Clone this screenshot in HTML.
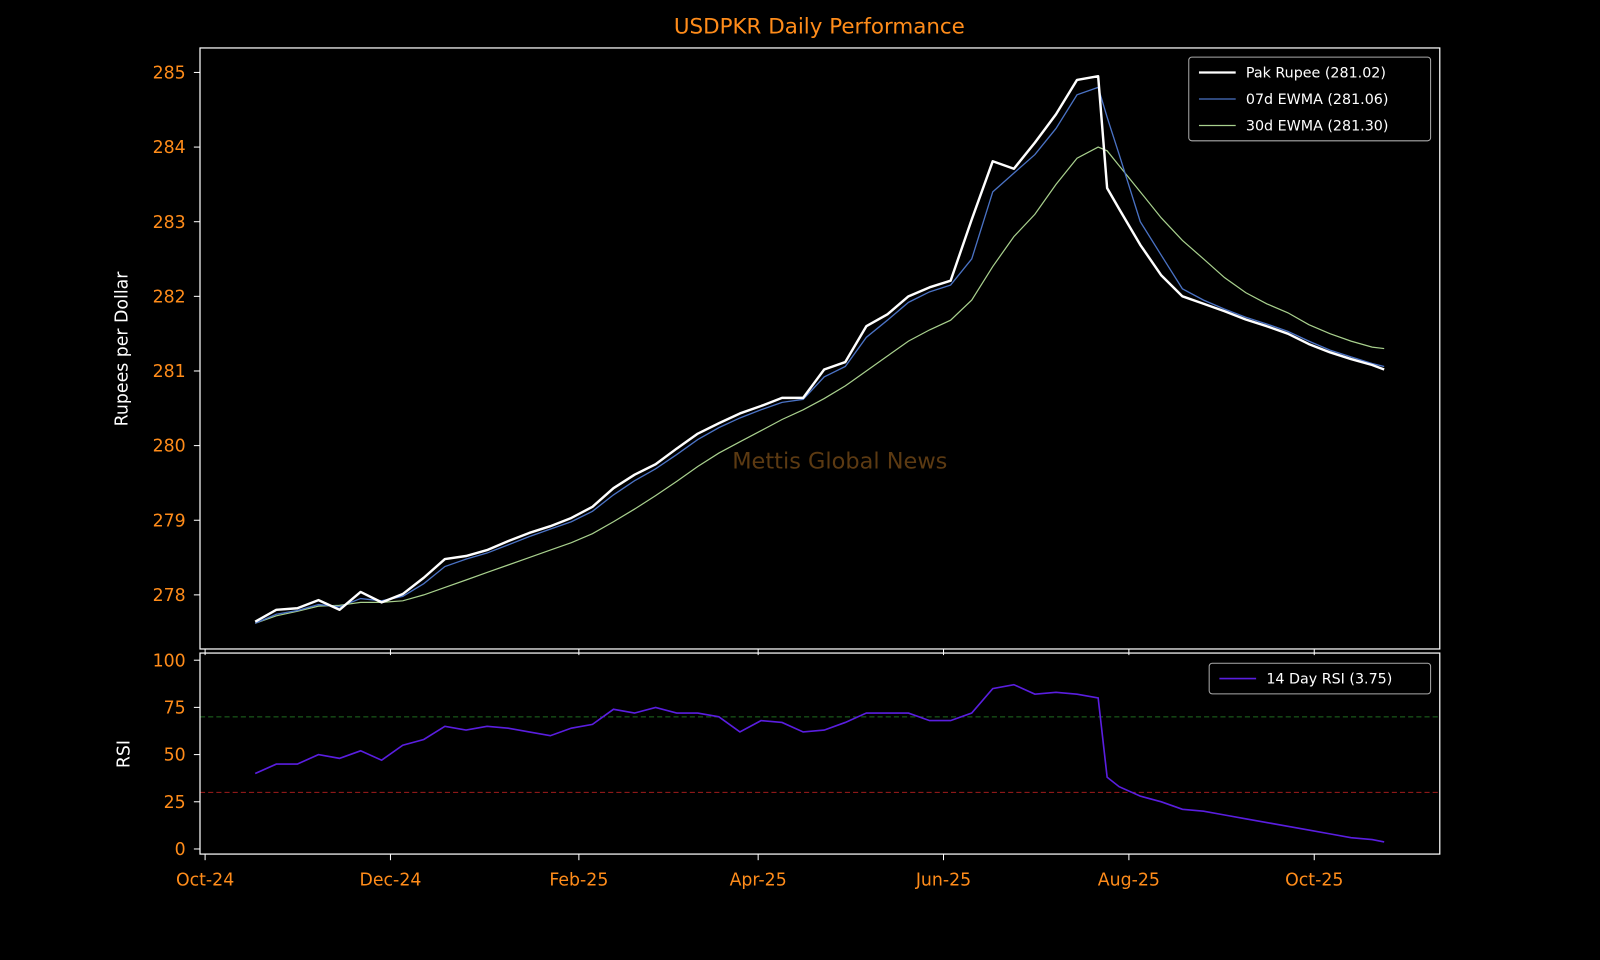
<!DOCTYPE html>
<html><head><meta charset="utf-8"><style>
html,body{margin:0;padding:0;background:#000;}
svg{display:block;font-family:"DejaVu Sans","Liberation Sans",sans-serif;}
</style></head><body>
<svg id="chart" width="1600" height="960" viewBox="0 0 1600 960" xmlns="http://www.w3.org/2000/svg">
<rect width="1600" height="960" fill="#000"/>
<g transform="scale(1.0204)">
<text x="803" y="33" text-anchor="middle" fill="#ff8c1a" font-size="21">USDPKR Daily Performance</text>
<text x="823" y="459" text-anchor="middle" fill="#5c3a12" font-size="22">Mettis Global News</text>
<text transform="translate(125,342) rotate(-90)" text-anchor="middle" fill="#fff" font-size="17">Rupees per Dollar</text>
<text transform="translate(127,739) rotate(-90)" text-anchor="middle" fill="#fff" font-size="17">RSI</text>
<g id="g-main"></g>
<g id="g-rsi"></g>
<rect x="196" y="47" width="1215" height="589" fill="none" stroke="#fff" stroke-width="1.2"/>
<rect x="196" y="640" width="1215" height="197" fill="none" stroke="#fff" stroke-width="1.2"/>
<g>
<rect x="1165" y="56" width="237" height="82" rx="3" fill="#000" stroke="#aaa" stroke-width="1"/>
<line x1="1175" y1="71" x2="1211" y2="71" stroke="#fff" stroke-width="2.2"/>
<text x="1221" y="76" fill="#fff" font-size="14">Pak Rupee (281.02)</text>
<line x1="1175" y1="97" x2="1211" y2="97" stroke="#4a72c4" stroke-width="1.2"/>
<text x="1221" y="102" fill="#fff" font-size="14">07d EWMA (281.06)</text>
<line x1="1175" y1="123" x2="1211" y2="123" stroke="#a8d08d" stroke-width="1.2"/>
<text x="1221" y="128" fill="#fff" font-size="14">30d EWMA (281.30)</text>
</g>
<g>
<rect x="1185" y="650" width="217" height="30" rx="3" fill="#000" stroke="#aaa" stroke-width="1"/>
<line x1="1195" y1="665" x2="1231" y2="665" stroke="#5a1ee0" stroke-width="1.5"/>
<text x="1241" y="670" fill="#fff" font-size="14">14 Day RSI (3.75)</text>
</g>
</g>
</svg>
<script>
const days=[0,7,14,21,28,35,42,49,56,63,70,77,84,91,98,105,112,119,126,133,140,147,154,161,168,175,182,189,196,203,210,217,224,231,238,245,252,259,266,273,280,283,287,294,301,308,315,322,329,336,343,350,357,364,371,375];
const price=[277.64,277.8,277.82,277.93,277.8,278.04,277.9,278.01,278.23,278.48,278.52,278.6,278.72,278.83,278.92,279.03,279.18,279.43,279.61,279.75,279.96,280.16,280.3,280.43,280.53,280.64,280.64,281.02,281.12,281.6,281.76,282.0,282.12,282.21,283.03,283.81,283.71,284.06,284.44,284.9,284.95,283.45,283.17,282.69,282.28,282.0,281.9,281.8,281.69,281.6,281.5,281.36,281.25,281.16,281.08,281.02];
const ewma7=[277.62,277.74,277.79,277.87,277.84,277.95,277.92,277.98,278.15,278.38,278.48,278.56,278.67,278.78,278.88,278.98,279.12,279.34,279.53,279.69,279.88,280.08,280.24,280.37,280.48,280.58,280.62,280.92,281.06,281.45,281.68,281.92,282.06,282.15,282.5,283.4,283.65,283.9,284.25,284.7,284.8,284.4,283.9,283.0,282.55,282.1,281.95,281.83,281.72,281.63,281.53,281.4,281.28,281.19,281.1,281.06];
const ewma30=[277.62,277.72,277.78,277.85,277.86,277.9,277.9,277.92,278.0,278.1,278.2,278.3,278.4,278.5,278.6,278.7,278.82,278.98,279.15,279.33,279.52,279.72,279.9,280.05,280.2,280.35,280.48,280.63,280.8,281.0,281.2,281.4,281.55,281.68,281.95,282.4,282.8,283.1,283.5,283.85,284.0,283.95,283.75,283.4,283.05,282.75,282.5,282.25,282.05,281.9,281.78,281.62,281.5,281.4,281.32,281.3];
const rsi=[40,45,45,50,48,52,47,55,58,65,63,65,64,62,60,64,66,74,72,75,72,72,70,62,68,67,62,63,67,72,72,72,68,68,72,85,87,82,83,82,80,38,33,28,25,21,20,18,16,14,12,10,8,6,5,3.75];
const priceTicks=[278,279,280,281,282,283,284,285];
const rsiTicks=[0,25,50,75,100];
const monthLabels=["Oct-24","Dec-24","Feb-25","Apr-25","Jun-25","Aug-25","Oct-25"];
const monthDays=[0,61,123,182,243,304,365];

const NS="http://www.w3.org/2000/svg";
const X=d=>201+2.978*d;
const dataX=d=>X(16.5+d*(371.5/375));
const Yp=v=>71+(285-v)*73.14;
const Yr=v=>832-v*1.85;
function mk(tag,attrs,parent){const e=document.createElementNS(NS,tag);for(const k in attrs)e.setAttribute(k,attrs[k]);parent.appendChild(e);return e;}
const gm=document.getElementById('g-main'),gr=document.getElementById('g-rsi');

priceTicks.forEach(v=>{
  const t=mk('line',{x1:190,x2:196,y1:Yp(v),y2:Yp(v),stroke:'#fff'},gm);
  
  
  const l=mk('text',{x:182,y:Yp(v)+6,'text-anchor':'end',fill:'#ff8c1a','font-size':17},gm);
  l.textContent=v;
  
  
});
rsiTicks.forEach(v=>{
  const t=mk('line',{x1:190,x2:196,y1:Yr(v),y2:Yr(v),stroke:'#fff'},gr);
  
  
  const l=mk('text',{x:182,y:Yr(v)+6,'text-anchor':'end',fill:'#ff8c1a','font-size':17},gr);
  l.textContent=v;
  
  
});
monthDays.forEach((d,i)=>{
  const t1=mk('line',{x1:X(d),x2:X(d),y1:636,y2:642,stroke:'#fff'},gm);
  
  
  const t2=mk('line',{x1:X(d),x2:X(d),y1:837,y2:843,stroke:'#fff'},gr);
  
  
  const l=mk('text',{x:X(d),y:868,'text-anchor':'middle',fill:'#ff8c1a','font-size':17},gr);
  l.textContent=monthLabels[i];
  
  
});
const h70=mk('line',{x1:196,x2:1411,y1:Yr(70),y2:Yr(70),stroke:'#1f6b1f','stroke-dasharray':'5,3','stroke-width':1},gr);


const h30=mk('line',{x1:196,x2:1411,y1:Yr(30),y2:Yr(30),stroke:'#a01c1c','stroke-dasharray':'5,3','stroke-width':1},gr);



function path(arr,Y){return arr.map((v,i)=>(i?'L':'M')+dataX(days[i]).toFixed(1)+','+Y(v).toFixed(1)).join(' ');}
const p30=mk('path',{d:path(ewma30,Yp),fill:'none',stroke:'#a8d08d','stroke-width':1.2},gm);


const p7=mk('path',{d:path(ewma7,Yp),fill:'none',stroke:'#4a72c4','stroke-width':1.3},gm);


const pp=mk('path',{d:path(price,Yp),fill:'none',stroke:'#fff','stroke-width':2.4,'stroke-linejoin':'round'},gm);


const pr=mk('path',{d:path(rsi,Yr),fill:'none',stroke:'#5a1ee0','stroke-width':1.6},gr);


</script>
</body></html>
